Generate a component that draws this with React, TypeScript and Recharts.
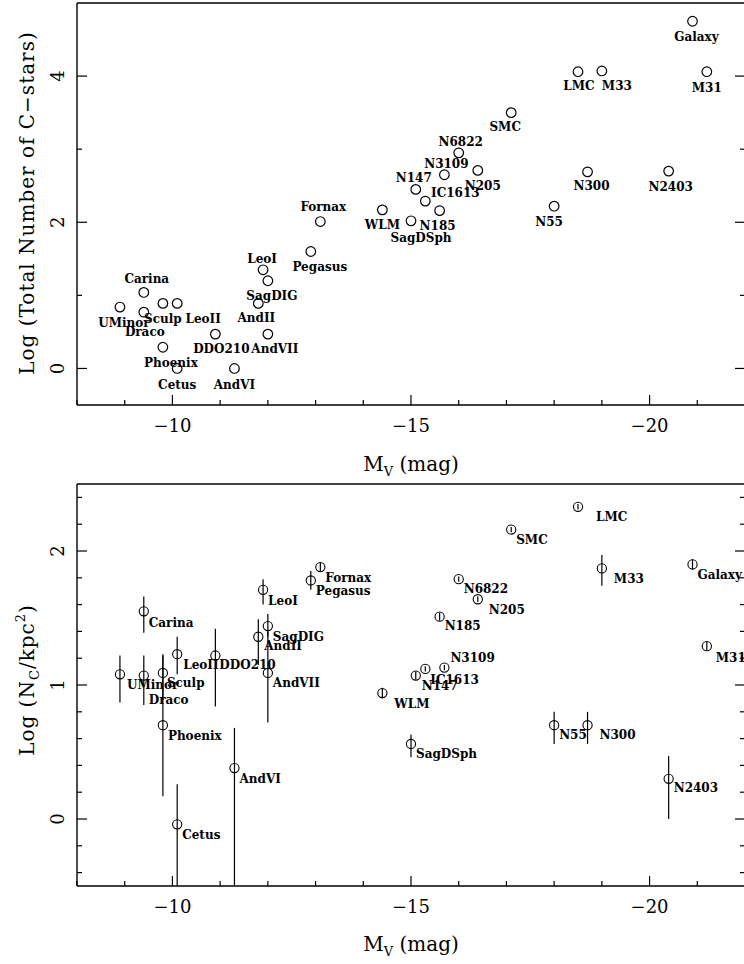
import React from 'react';
import { ScatterChart, Scatter, XAxis, YAxis, ErrorBar } from 'recharts';

// galaxies, in the same order in every array below
const galaxies = [
  'Galaxy', 'LMC', 'M33', 'M31', 'SMC', 'N6822', 'N3109', 'N205', 'N147', 'IC1613',
  'N185', 'WLM', 'SagDSph', 'N55', 'N300', 'N2403', 'Fornax', 'Pegasus', 'LeoI', 'SagDIG',
  'AndII', 'AndVII', 'DDO210', 'AndVI', 'Cetus', 'Phoenix', 'Carina', 'UMinor', 'Draco', 'Sculp',
  'LeoII',
];
const absMagV = [
  -20.9, -18.5, -19.0, -21.2, -17.1, -16.0, -15.7, -16.4, -15.1, -15.3,
  -15.6, -14.4, -15.0, -18.0, -18.7, -20.4, -13.1, -12.9, -11.9, -12.0,
  -11.8, -12.0, -10.9, -11.3, -10.1, -9.8, -9.4, -8.9, -9.4, -9.8,
  -10.1,
];
// log of total number of C stars
const logTotalC = [
  4.75, 4.06, 4.07, 4.06, 3.5, 2.95, 2.65, 2.71, 2.45, 2.29,
  2.16, 2.17, 2.02, 2.22, 2.69, 2.7, 2.01, 1.6, 1.35, 1.2,
  0.89, 0.47, 0.47, 0.0, 0.0, 0.29, 1.04, 0.84, 0.77, 0.89,
  0.89,
];
// log of C stars per kpc^2
const logSurfDens = [
  1.9, 2.33, 1.87, 1.29, 2.16, 1.79, 1.13, 1.64, 1.07, 1.12,
  1.51, 0.94, 0.56, 0.7, 0.7, 0.3, 1.88, 1.78, 1.71, 1.44,
  1.36, 1.09, 1.22, 0.38, -0.04, 0.7, 1.55, 1.08, 1.07, 1.09,
  1.23,
];
const errDown = [
  0.04, 0.02, 0.13, 0.03, 0.02, 0.02, 0.02, 0.02, 0.03, 0.02,
  0.03, 0.04, 0.1, 0.14, 0.14, 0.3, 0.03, 0.07, 0.11, 0.08,
  0.21, 0.37, 0.38, 0.88, 0.46, 0.53, 0.16, 0.21, 0.22, 0.2,
  0.15,
];
const errUp = [
  0.04, 0.02, 0.1, 0.03, 0.02, 0.02, 0.02, 0.02, 0.03, 0.02,
  0.03, 0.04, 0.07, 0.1, 0.1, 0.17, 0.03, 0.07, 0.08, 0.09,
  0.13, 0.31, 0.2, 0.3, 0.3, 0.53, 0.11, 0.14, 0.15, 0.13,
  0.13,
];

const xTicks = [-8, -9, -10, -11, -12, -13, -14, -15, -16, -17, -18, -19, -20, -21, -22];
const yTicksTop = [0, 1, 2, 3, 4];
const yTicksBottom = [-0.4, -0.2, 0, 0.2, 0.4, 0.6, 0.8, 1, 1.2, 1.4, 1.6, 1.8, 2, 2.2, 2.4];

const topData = galaxies.map((name, i) => ({ name, mv: absMagV[i], v: logTotalC[i] }));
const bottomData = galaxies.map((name, i) => ({
  name,
  mv: absMagV[i],
  v: logSurfDens[i],
  err: [errDown[i], errUp[i]],
}));

// label placement (px from the marker centre)
const topLabelPos: Record<string, [number, number]> = {
  Galaxy: [4, 15], LMC: [1, 14], M33: [15, 15], M31: [0, 16], SMC: [-6, 14],
  N6822: [2, -11], N3109: [2, -11], N205: [5, 15], N147: [-2, -12], IC1613: [30, -9],
  N185: [-2, 15], WLM: [0, 15], SagDSph: [10, 17], N55: [-5, 15], N300: [4, 14],
  N2403: [2, 15], Fornax: [3, -15], Pegasus: [9, 15], LeoI: [-1, -11], SagDIG: [4, 15],
  AndII: [-2, 14], AndVII: [7, 14], DDO210: [6, 14], AndVI: [0, 16], Cetus: [0, 16],
  Phoenix: [8, 15], Carina: [3, -14], UMinor: [4, 15], Draco: [1, 19], Sculp: [0, 15],
  LeoII: [26, 15],
};
const bottomLabelPos: Record<string, [number, number]> = {
  Galaxy: [5, 10], LMC: [18, 10], M33: [12, 10], M31: [9, 11], SMC: [5, 10],
  N6822: [5, 9], N3109: [6, -10], N205: [11, 10], N147: [6, 10], IC1613: [5, 11],
  N185: [5, 9], WLM: [12, 10], SagDSph: [5, 10], N55: [5, 9], N300: [12, 9],
  N2403: [5, 9], Fornax: [5, 10], Pegasus: [5, 10], LeoI: [5, 11], SagDIG: [5, 10],
  AndII: [6, 9], AndVII: [5, 10], DDO210: [4, 9], AndVI: [5, 10], Cetus: [5, 10],
  Phoenix: [5, 10], Carina: [5, 11], UMinor: [7, 10], Draco: [5, 24], Sculp: [4, 10],
  LeoII: [6, 10],
};

const FONT = '"DejaVu Serif", serif';
const MINUS = '\u2212';
const fmt = (v: number) => (v < 0 ? MINUS + Math.abs(v) : String(v));

const XTick = (side: 'top' | 'bottom') => (props: any) => {
  const { x, y, payload } = props;
  const v = payload.value;
  const major = v % 5 === 0;
  const len = major ? 10 : 5;
  const dir = side === 'bottom' ? -1 : 1;
  return (
    <g>
      <line x1={x} y1={y} x2={x} y2={y + dir * len} stroke="#000" strokeWidth={1.2} />
      {side === 'bottom' && major && (
        <text x={x} y={y + 27} textAnchor="middle" fontFamily={FONT} fontSize={18} fill="#000">
          {fmt(v)}
        </text>
      )}
    </g>
  );
};

const YTick = (side: 'left' | 'right', labelStep: number) => (props: any) => {
  const { x, y, payload } = props;
  const v = Math.round(payload.value * 10) / 10;
  const whole = Math.abs(v - Math.round(v)) < 1e-6;
  const major = whole && Math.round(v) % labelStep === 0;
  const len = major ? 10 : 5;
  const dir = side === 'left' ? 1 : -1;
  return (
    <g>
      <line x1={x} y1={y} x2={x + dir * len} y2={y} stroke="#000" strokeWidth={1.2} />
      {side === 'left' && major && (
        <g transform={`translate(${x - 13}, ${y}) rotate(-90)`}>
          <text x={0} y={0} textAnchor="middle" fontFamily={FONT} fontSize={18} fill="#000">
            {fmt(v)}
          </text>
        </g>
      )}
    </g>
  );
};

const labelStyle = { fontFamily: FONT, fontSize: 12, fontWeight: 'bold' as const, fill: '#000' };

const TopMarker = (props: any) => {
  const { cx, cy, payload } = props;
  const [dx, dy] = topLabelPos[payload.name] || [0, 14];
  return (
    <g>
      <circle cx={cx} cy={cy} r={4.8} fill="none" stroke="#000" strokeWidth={1.2} />
      <text x={cx + dx} y={cy + dy + 4.5} textAnchor="middle" style={labelStyle}>
        {payload.name}
      </text>
    </g>
  );
};

const BottomMarker = (props: any) => {
  const { cx, cy, payload } = props;
  const [dx, dy] = bottomLabelPos[payload.name] || [5, 10];
  return (
    <g>
      <circle cx={cx} cy={cy} r={4.6} fill="none" stroke="#000" strokeWidth={1.1} />
      <text x={cx + dx} y={cy + dy + 4.5} textAnchor="start" style={labelStyle}>
        {payload.name}
      </text>
    </g>
  );
};

const frame = { stroke: '#000', strokeWidth: 1.4 };

function Panel({ data, yDomain, yTicks, labelStep, bars, top, marginTop, height }: any) {
  return (
    <div style={{ position: 'absolute', left: 0, top }}>
      <ScatterChart
        width={746}
        height={height}
        margin={{ top: marginTop - 1, right: 0, bottom: height - marginTop - 402 - 1, left: 76 }}
      >
        <XAxis
          xAxisId="b"
          dataKey="mv"
          type="number"
          domain={[-22, -8]}
          reversed
          allowDataOverflow
          orientation="bottom"
          height={1}
          ticks={xTicks}
          interval={0}
          tickSize={0}
          tickMargin={0}
          tickLine={false}
          axisLine={frame}
          tick={XTick('bottom')}
        />
        <XAxis
          xAxisId="t"
          type="number"
          domain={[-22, -8]}
          reversed
          allowDataOverflow
          orientation="top"
          height={1}
          ticks={xTicks}
          interval={0}
          tickSize={0}
          tickMargin={0}
          tickLine={false}
          axisLine={frame}
          tick={XTick('top')}
        />
        <YAxis
          yAxisId="l"
          dataKey="v"
          type="number"
          domain={yDomain}
          allowDataOverflow
          orientation="left"
          width={1}
          ticks={yTicks}
          interval={0}
          tickSize={0}
          tickMargin={0}
          tickLine={false}
          axisLine={frame}
          tick={YTick('left', labelStep)}
        />
        <YAxis
          yAxisId="r"
          type="number"
          domain={yDomain}
          allowDataOverflow
          orientation="right"
          width={1}
          ticks={yTicks}
          interval={0}
          tickSize={0}
          tickMargin={0}
          tickLine={false}
          axisLine={frame}
          tick={YTick('right', labelStep)}
        />
        <Scatter
          data={data}
          xAxisId="b"
          yAxisId="l"
          isAnimationActive={false}
          shape={bars ? BottomMarker : TopMarker}
        >
          {bars && (
            <ErrorBar dataKey="err" direction="y" width={0} stroke="#000" strokeWidth={1.2} />
          )}
        </Scatter>
      </ScatterChart>
    </div>
  );
}

export default function App() {
  return (
    <div
      style={{
        position: 'absolute',
        left: 0,
        top: 0,
        width: 744,
        height: 964,
        overflow: 'hidden',
        background: '#fff',
      }}
    >
      <Panel data={topData} yDomain={[-0.5, 5]} yTicks={yTicksTop} labelStep={2} top={0} marginTop={3} height={480} />
      <Panel data={bottomData} yDomain={[-0.5, 2.5]} yTicks={yTicksBottom} labelStep={1} bars top={480} marginTop={4} height={484} />
      <svg
        width={744}
        height={964}
        style={{ position: 'absolute', left: 0, top: 0, pointerEvents: 'none' }}
        fontFamily={FONT}
        fill="#000"
      >
        <text x={411} y={471} textAnchor="middle" fontSize={20}>
          M<tspan fontSize={13} dy={5}>V</tspan>
          <tspan dy={-5}> (mag)</tspan>
        </text>
        <text x={411} y={951} textAnchor="middle" fontSize={20}>
          M<tspan fontSize={13} dy={5}>V</tspan>
          <tspan dy={-5}> (mag)</tspan>
        </text>
        <text
          x={34}
          y={203}
          transform="rotate(-90, 34, 203)"
          textAnchor="middle"
          fontSize={20}
          letterSpacing={1}
        >
          Log (Total Number of C{MINUS}stars)
        </text>
        <text
          x={34}
          y={680}
          transform="rotate(-90, 34, 680)"
          textAnchor="middle"
          fontSize={20}
          letterSpacing={1}
        >
          Log (N<tspan fontSize={13} dy={5}>C</tspan>
          <tspan dy={-5}>/kpc</tspan>
          <tspan fontSize={13} dy={-9}>2</tspan>
          <tspan dy={9}>)</tspan>
        </text>
      </svg>
    </div>
  );
}
